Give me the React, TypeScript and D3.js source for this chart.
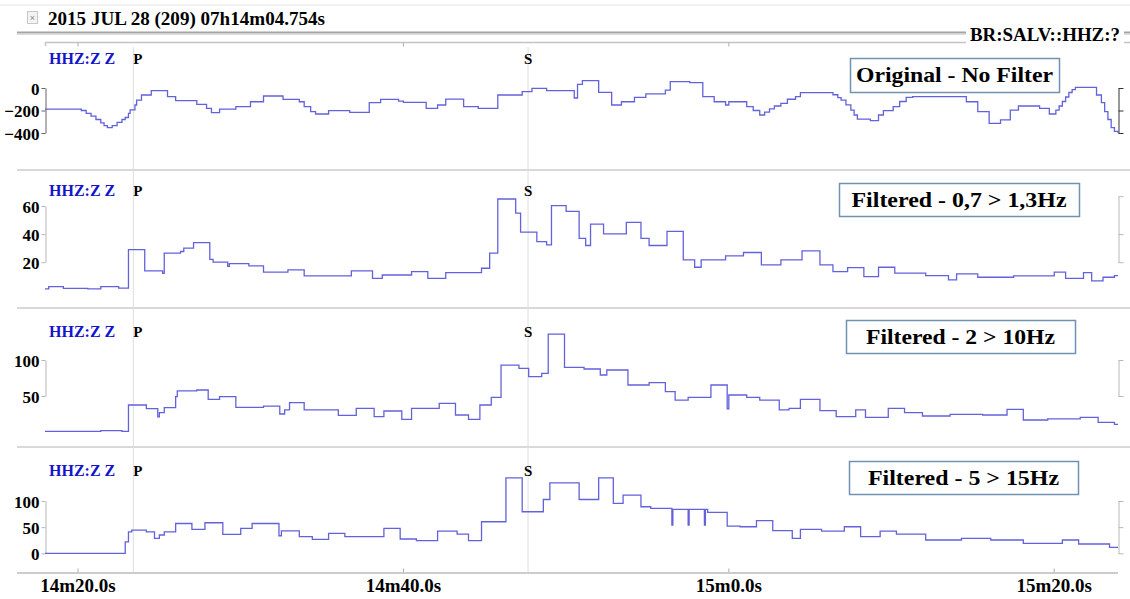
import React, { useEffect, useRef } from 'react';
import * as d3 from 'd3';

// time in seconds after 07h14m00s
const TIME_TICKS = [20, 40, 60, 80];
const TIME_LABELS = ['14m20.0s', '14m40.0s', '15m0.0s', '15m20.0s'];
const TIME_RANGE = [17.97, 83.92];

const PICKS = [
    { label: 'P', t: 23.4 },
    { label: 'S', t: 47.66 },
];

const PANEL_TITLES = ['Original - No Filter', 'Filtered - 0,7 > 1,3Hz', 'Filtered - 2 > 10Hz', 'Filtered - 5 > 15Hz'];
const CHANNEL = 'HHZ:Z Z';

const originalTrace: [number, number][] = [
    [17.97, -187], [19.9, -187], [20.2, -200], [20.5, -225], [20.8, -250], [21.1, -280], [21.4, -310], [21.6, -335],
    [21.8, -353], [22.1, -335], [22.4, -305], [22.7, -280], [22.9, -262], [23.1, -225], [23.2, -195], [23.5, -151],
    [23.6, -107], [23.9, -62], [24.5, -24], [25.5, -77], [26.0, -113], [27.3, -145],
    [27.9, -181], [28.2, -219], [28.7, -187], [29.7, -166], [30.6, -122], [31.4, -71], [32.6, -101], [33.6, -122],
    [33.9, -165], [34.3, -210], [34.6, -231], [35.4, -201], [36.7, -216], [37.9, -130], [38.6, -101], [39.7, -116],
    [40.0, -127], [41.4, -181], [42.1, -151], [42.6, -98], [43.7, -166], [44.6, -181], [45.8, -62], [47.3, -33],
    [47.9, -3], [48.8, -24], [50.5, -89], [50.7, 33], [51.0, 65], [52.0, -38], [52.8, -151], [53.4, -122],
    [54.2, -83], [54.9, -53], [56.1, -18], [56.4, 56], [57.6, 47], [58.4, -77], [59.1, -122], [59.8, -151],
    [60.0, -122], [61.1, -166], [61.5, -200], [61.9, -240], [62.2, -215], [62.5, -185], [62.8, -160], [63.2, -136],
    [63.6, -100], [64.1, -77], [64.4, -41], [66.4, -60], [66.7, -85], [66.9, -107], [67.2, -150], [67.5, -196],
    [67.7, -240], [67.9, -276], [68.7, -290], [69.2, -240], [69.5, -201], [70.1, -166],
    [70.5, -120], [70.9, -83], [71.3, -77], [74.6, -122], [75.3, -210], [76.0, -314], [76.7, -284], [77.3, -196],
    [77.8, -160], [79.1, -181], [79.7, -231], [80.1, -196], [80.3, -160], [80.5, -120], [80.7, -80], [80.9, -40],
    [81.1, -15], [81.3, 6], [82.6, -62], [82.9, -130], [83.1, -210], [83.3, -280], [83.5, -353], [83.7, -385],
    [83.92, -400],
];

const band07to13: [number, number][] = [
    [17.97, 1], [18.2, 2.6], [19.1, 1.4], [20.6, 1], [21.4, 2.6], [22.5, 1.6], [23.1, 29], [24.1, 13.8],
    [25.2, 12], [25.3, 26.4], [26.3, 27.6], [26.5, 30], [27.1, 34], [28.1, 22], [28.3, 20], [29.2, 17],
    [29.3, 19], [30.5, 17.4], [31.4, 12.9], [32.9, 14.5], [33.9, 10.2], [36.8, 13.8], [38.1, 8.5], [38.7, 10.9],
    [40.5, 13.3], [41.5, 8.5], [42.6, 12.6], [44.8, 15.7], [45.3, 26.4], [45.8, 65], [46.9, 55], [47.2, 41.4],
    [48.2, 34.7], [48.8, 32.4], [49.1, 60.2], [50.0, 56.2], [50.8, 37], [51.2, 31.9], [51.5, 47.1], [52.3, 40.2],
    [53.7, 48.3], [54.6, 37], [55.1, 31.9], [56.2, 41.9], [57.2, 21.7], [57.9, 16.4], [58.3, 21.7], [59.8, 24.5],
    [60.9, 26.9], [62.0, 18.1], [63.2, 21.7], [64.5, 28.1], [65.6, 18.1], [66.4, 13.3], [67.3, 16.2], [68.3, 9.7],
    [69.2, 16.4], [70.2, 12.2], [72.1, 10.5], [73.5, 7.4], [74.0, 11.7], [75.3, 9.3], [77.5, 10.2], [80.0, 13],
    [80.7, 8.5], [81.8, 12.6], [82.3, 6.7], [83.0, 9.3], [83.7, 10.5], [83.92, 10.5],
];

const band2to10: [number, number][] = [
    [17.97, 1], [21.4, 2], [22.7, 1], [23.1, 37.5], [24.2, 32.4], [24.9, 21], [25.0, 27], [25.3, 33.8],
    [26.0, 49], [26.1, 57], [27.3, 58.3], [28.0, 45.4], [28.7, 49], [29.7, 34.3], [31.4, 36], [32.4, 25],
    [32.7, 30.6], [33.0, 40.7], [33.9, 30.6], [36.0, 23.1], [37.1, 32.8], [38.2, 21.3], [38.8, 29.2], [39.9, 17.6],
    [40.5, 32.8], [42.2, 39.8], [43.2, 23.6], [44.0, 17.6], [44.7, 37.5], [45.4, 48.1], [46.0, 93], [47.1, 88.4],
    [47.7, 76.9], [48.5, 81.5], [48.9, 136], [49.9, 89.8], [51.1, 87.5], [52.1, 79.2], [52.5, 86.1], [53.8, 65.3],
    [55.1, 68.5], [56.1, 56], [56.7, 44.4], [57.5, 48.1], [58.9, 65.3], [59.9, 32], [60.0, 51.4], [61.1, 48.1],
    [61.9, 44.4], [63.1, 30.6], [63.7, 32.8], [64.4, 45.4], [65.6, 29.6], [66.6, 21.3], [67.8, 30.6], [68.4, 20.4],
    [69.8, 32.8], [70.8, 26.9], [71.9, 22.2], [73.6, 24.5], [75.6, 23.6], [77.1, 31.5], [78.1, 16.7], [79.6, 18.1],
    [81.6, 20.4], [82.7, 13.4], [83.7, 10.6], [83.92, 10.6],
];

const band5to15: [number, number][] = [
    [17.97, 0], [22.9, 22], [23.1, 41], [23.3, 44.5], [24.2, 41], [24.7, 28.6], [25.0, 35], [25.3, 41],
    [26.0, 57], [27.0, 45.8], [27.8, 58.4], [28.9, 36.2], [30.0, 47.7], [30.7, 57], [32.35, 33.6], [32.5, 43],
    [33.6, 31.7], [34.4, 26.7], [35.4, 38.1], [36.4, 31.7], [38.8, 47.6], [39.8, 27.3], [40.8, 24.2], [42.1, 42.5],
    [43.3, 36.8], [44.0, 24.2], [44.8, 60.3], [46.3, 144.4], [47.3, 79.4], [48.6, 102.9], [49.0, 134.8], [50.8, 102.9],
    [52.0, 144.4], [52.9, 95.3], [53.5, 111.2], [54.6, 89], [55.2, 85.8], [56.5, 54], [56.56, 83.9], [57.5, 54],
    [57.56, 83.9], [58.5, 54], [58.56, 83.9], [58.7, 78.2], [59.9, 52.1], [60.7, 50.8], [61.7, 62.3], [62.7, 43.2],
    [63.9, 28.6], [64.4, 45.7], [65.7, 42.5], [67.1, 50.8], [68.1, 31.7], [69.3, 42.5], [70.3, 36.8], [72.1, 25.4],
    [74.3, 28.6], [76.1, 25.4], [78.1, 19], [80.5, 25.4], [81.5, 17.8], [83.4, 11.4], [83.92, 11.4],
];

const TRACES = [originalTrace, band07to13, band2to10, band5to15];
const DOMAINS = [[-400, 0], [0, 60], [0, 100], [0, 100]];
const LEFT_TICKS = [[0, -200, -400], [20, 40, 60], [50, 100], [0, 50, 100]];
const RIGHT_TICKS = [[-400, -200, 0], [20, 40, 67], [50, 100], [0, 50, 100]];

const SERIF = '"Liberation Serif", "Times New Roman", serif';

// pixel layout of the four panels
const panels = [
    { yRange: [133, 88], labelY: 64, box: [850, 58, 209, 34], textW: 197, axis: '#666', right: '#333' },
    { yRange: [290.3, 206], labelY: 196, box: [839, 183, 240, 33], textW: 215, axis: '#b8b8b8', right: '#b8b8b8' },
    { yRange: [432, 360], labelY: 337, box: [846, 320, 229, 33], textW: 189, axis: '#b8b8b8', right: '#b8b8b8' },
    { yRange: [553.3, 501], labelY: 476, box: [849, 461, 229, 33], textW: 191, axis: '#b8b8b8', right: '#b8b8b8' },
];

const Seismogram = () => {
    const svgRef = useRef<SVGSVGElement>(null);

    useEffect(() => {
        const svg = d3.select(svgRef.current);
        svg.selectAll('*').remove();

        const x = d3.scaleLinear().domain(TIME_RANGE).range([45, 1118]);

        // header
        svg.append('line').attr('x1', 0).attr('x2', 1130).attr('y1', 5).attr('y2', 5)
            .attr('stroke', '#eeeeee').attr('stroke-width', 1.5);
        svg.append('rect').attr('x', 27.5).attr('y', 11.5).attr('width', 10).attr('height', 12)
            .attr('fill', '#f3f3f3').attr('stroke', '#c8c8c8');
        svg.append('text').attr('x', 32.5).attr('y', 21).attr('text-anchor', 'middle')
            .attr('font-family', 'sans-serif').attr('font-size', 9).attr('fill', '#888').text('×');
        svg.append('text').attr('x', 48).attr('y', 25)
            .attr('font-family', SERIF).attr('font-weight', 'bold').attr('font-size', 18)
            .attr('textLength', 277).attr('lengthAdjust', 'spacingAndGlyphs')
            .text('2015 JUL 28 (209) 07h14m04.754s');

        svg.append('line').attr('x1', 17).attr('x2', 1130).attr('y1', 32.5).attr('y2', 32.5)
            .attr('stroke', '#a4a4a4').attr('stroke-width', 2);
        svg.append('line').attr('x1', 17).attr('x2', 1130).attr('y1', 34.5).attr('y2', 34.5)
            .attr('stroke', '#dcdcdc').attr('stroke-width', 1);
        svg.append('path').attr('d', 'M45.5,46V42.5H1130')
            .attr('fill', 'none').attr('stroke', '#c4c4c4').attr('stroke-width', 1.5);
        TIME_TICKS.forEach(t => {
            svg.append('line').attr('x1', x(t)).attr('x2', x(t)).attr('y1', 42.5).attr('y2', 46.5)
                .attr('stroke', '#b0b0b0');
        });

        svg.append('rect').attr('x', 966).attr('y', 25).attr('width', 158).attr('height', 21).attr('fill', '#fff');
        svg.append('text').attr('x', 970).attr('y', 41)
            .attr('font-family', SERIF).attr('font-weight', 'bold').attr('font-size', 18)
            .attr('textLength', 150).attr('lengthAdjust', 'spacingAndGlyphs')
            .text('BR:SALV::HHZ:?');

        // separators
        [170, 308, 447].forEach(yy => {
            svg.append('line').attr('x1', 17).attr('x2', 1130).attr('y1', yy).attr('y2', yy)
                .attr('stroke', '#d9d9d9').attr('stroke-width', 2);
        });

        // phase picks
        PICKS.forEach(p => {
            svg.append('line').attr('x1', x(p.t)).attr('x2', x(p.t)).attr('y1', 47).attr('y2', 573)
                .attr('stroke', '#dedede').attr('stroke-width', 1);
        });

        panels.forEach((pn, i) => {
            const y = d3.scaleLinear().domain(DOMAINS[i]).range(pn.yRange);
            const g = svg.append('g');

            g.append('text').attr('x', 49).attr('y', pn.labelY)
                .attr('font-family', SERIF).attr('font-weight', 'bold').attr('font-size', 16)
                .attr('fill', '#1414cc').text(CHANNEL);

            PICKS.forEach((p, j) => {
                g.append('text').attr('x', x(p.t))
                    .attr('y', pn.labelY)
                    .attr('text-anchor', j === 0 ? 'start' : 'middle')
                    .attr('font-family', SERIF).attr('font-weight', 'bold').attr('font-size', 15)
                    .text(p.label);
            });

            // left axis
            const lt = LEFT_TICKS[i];
            const ls = d3.scaleLinear().domain(d3.extent(lt) as [number, number])
                .range([y(d3.min(lt)!), y(d3.max(lt)!)]);
            const la = g.append('g').attr('transform', 'translate(45.5,0)')
                .call(d3.axisLeft(ls).tickValues(lt).tickSize(4).tickSizeOuter(0).tickPadding(2).tickFormat(d3.format('d')));
            la.attr('font-family', SERIF).attr('font-size', 17).attr('font-weight', 'bold');
            la.selectAll('path, line').attr('stroke', pn.axis);
            la.selectAll('text').attr('fill', '#000').attr('dy', '0.36em');

            // right axis
            const rt = RIGHT_TICKS[i];
            const rs = d3.scaleLinear().domain(d3.extent(rt) as [number, number])
                .range([y(d3.min(rt)!), y(d3.max(rt)!)]);
            const ra = g.append('g').attr('transform', 'translate(1118.5,0)')
                .call(d3.axisRight(rs).tickValues(rt).tickSize(5).tickSizeOuter(0).tickFormat(() => ''));
            ra.selectAll('path, line').attr('stroke', pn.right);

            // trace
            const line = d3.line<[number, number]>()
                .x(d => x(d[0]))
                .y(d => y(d[1]))
                .curve(d3.curveStepAfter);
            g.append('path').datum(TRACES[i]).attr('d', line)
                .attr('fill', 'none').attr('stroke', '#6262dc').attr('stroke-width', 1.3);

            // title box
            const [bx, by, bw, bh] = pn.box;
            g.append('rect').attr('x', bx + 0.5).attr('y', by + 0.5).attr('width', bw).attr('height', bh)
                .attr('fill', '#fff').attr('stroke', '#7191b3').attr('stroke-width', 1.5);
            g.append('text').attr('x', bx + bw / 2 - pn.textW / 2).attr('y', by + bh / 2 + 7)
                .attr('font-family', SERIF).attr('font-weight', 'bold').attr('font-size', 21)
                .attr('textLength', pn.textW).attr('lengthAdjust', 'spacingAndGlyphs')
                .text(PANEL_TITLES[i]);
        });

        // bottom time axis
        svg.append('line').attr('x1', 17).attr('x2', 1118).attr('y1', 573).attr('y2', 573)
            .attr('stroke', '#cccccc').attr('stroke-width', 2);
        TIME_TICKS.forEach((t, i) => {
            svg.append('line').attr('x1', x(t)).attr('x2', x(t)).attr('y1', 568.5).attr('y2', 572)
                .attr('stroke', '#aaa');
            svg.append('text').attr('x', x(t)).attr('y', 592).attr('text-anchor', 'middle')
                .attr('font-family', SERIF).attr('font-weight', 'bold').attr('font-size', 19)
                .text(TIME_LABELS[i]);
        });
    }, []);

    return <svg ref={svgRef} width={1130} height={599} style={{ position: 'absolute', left: 0, top: 0, background: '#fff' }}></svg>;
};

const App = () => {
    return (
        <div>
            <Seismogram />
        </div>
    );
};

export default App;
